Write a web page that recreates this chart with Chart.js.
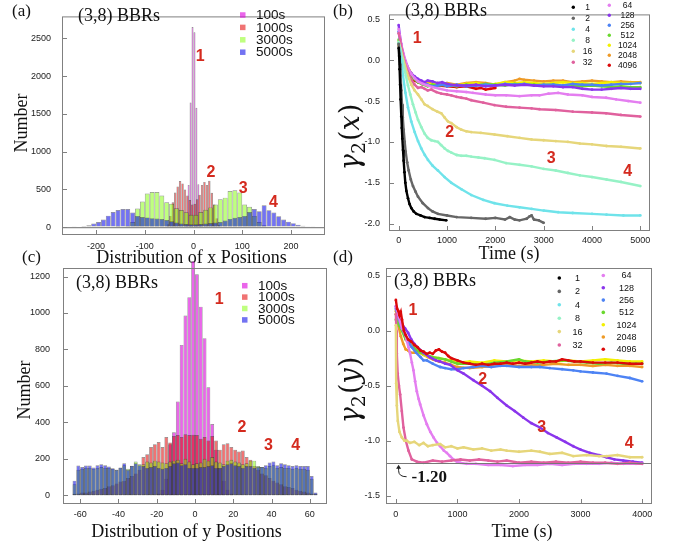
<!DOCTYPE html>
<html><head><meta charset="utf-8">
<script src="https://cdn.jsdelivr.net/npm/chart.js@4.4.1/dist/chart.umd.min.js"></script>
<style>
html,body{margin:0;padding:0;background:#fff;}
#wrap{position:relative;width:680px;height:548px;overflow:hidden;background:#fff;}
canvas{position:absolute;left:0;top:0;}
</style></head><body>
<div id="wrap">
<canvas id="ca" width="680" height="548"></canvas>
<canvas id="cb" width="680" height="548"></canvas>
<canvas id="cc" width="680" height="548"></canvas>
<canvas id="cd" width="680" height="548"></canvas>
</div>
<script>
// ---------------- DATA ----------------
const HIST_LABELS = ['100s', '1000s', '3000s', '5000s'];
// (a) x-position histograms
const xBins10 = [-245,-235,-225,-215,-205,-195,-185,-175,-165,-155,-145,-135,-125,-115,-105,-95,-85,-75,-65,-55,-45,-35,-25,-15,-5,5,15,25,35,45,55,65,75,85,95,105,115,125,135,145,155,165,175,185,195,205,215,225,235,245];
const x5000 = [5,8,15,25,50,70,103,153,202,227,240,240,195,150,136,130,120,115,108,95,78,62,50,42,38,38,42,50,55,62,70,88,110,125,135,150,200,240,212,290,225,195,145,103,74,54,33,20,12,5];
const x3000 = [0,0,0,0,0,0,0,0,0,3,8,20,70,247,339,445,466,466,420,330,309,250,228,198,165,165,200,230,262,300,371,391,480,490,460,300,270,150,70,25,8,0,0,0,0,0,0,0,0,0];
const xBins5 = [-52.5,-47.5,-42.5,-37.5,-32.5,-27.5,-22.5,-17.5,-12.5,-7.5,-2.5,2.5,7.5,12.5,17.5,22.5,27.5,32.5,37.5,42.5,47.5,52.5];
const x1000 = [40,150,330,460,540,610,580,500,420,360,300,310,370,430,560,600,560,615,455,300,120,30];
const xBins4 = [-14,-10,-6,-2,2,6,10,14];
const x100 = [40,560,1650,2650,2580,1580,570,40];
const xTicksA = [-200,-100,0,100,200];
const yTicksA = [0,500,1000,1500,2000,2500];

// (c) y-position histograms
const yBins2 = [-63,-61,-59,-57,-55,-53,-51,-49,-47,-45,-43,-41,-39,-37,-35,-33,-31,-29,-27,-25,-23,-21,-19,-17,-15,-13,-11,-9,-7,-5,-3,-1,1,3,5,7,9,11,13,15,17,19,21,23,25,27,29,31,33,35,37,39,41,43,45,47,49,51,53,55,57,59,61,63];
const y5000 = [80,163,155,163,163,152,165,170,165,158,148,140,152,176,140,162,175,165,160,150,155,160,150,145,150,160,175,180,165,170,150,150,150,155,155,160,165,150,150,160,170,175,165,160,150,160,160,150,155,155,165,180,185,165,175,170,165,160,165,160,160,160,105,15];
const y3000 = [60,140,145,150,150,145,150,155,150,150,145,140,150,165,145,160,185,170,170,185,180,190,185,180,175,185,190,195,175,200,185,170,175,180,200,190,210,185,180,170,190,195,185,180,170,175,190,190,160,155,150,160,165,150,155,150,150,145,150,145,145,140,90,10];
const y1000 = [8,10,15,15,20,25,30,35,40,50,55,65,75,80,95,105,120,140,210,225,265,280,292,265,320,290,325,330,320,335,330,332,330,310,320,300,325,300,250,280,285,265,250,240,245,210,195,160,140,120,110,95,80,70,60,50,45,40,30,25,20,15,10,5];
const y100 = [0,0,0,0,0,0,0,0,0,0,0,0,0,0,0,0,0,0,0,0,0,0,10,30,90,280,346,514,825,986,1087,1285,1213,1035,862,593,391,250,150,80,30,10,0,0,0,0,0,0,0,0,0,0,0,0,0,0,0,0,0,0,0,0,0,0];
const xTicksC = [-60,-40,-20,0,20,40,60];
const yTicksC = [0,200,400,600,800,1000,1200];

// (b) gamma2(x) vs time, one [t, value] list per cell size
const SERIES_N = ['1','2','4','8','16','32','64','128','256','512','1024','2048','4096'];
const gx1 = [[0,0.15],[10,0.05],[20,-0.11],[30,-0.3],[40,-0.48],[55,-0.69],[65,-0.83],[76,-0.96],[90,-1.1],[103,-1.23],[120,-1.37],[138,-1.5],[160,-1.6],[193,-1.69],[225,-1.76],[262,-1.81],[310,-1.85],[365,-1.88],[450,-1.9],[537,-1.92],[640,-1.93],[744,-1.94],[850,-1.95],[985,-1.96]];
const gx2 = [[0,0.2],[15,0.08],[30,-0.05],[41,-0.19],[55,-0.37],[69,-0.54],[85,-0.7],[103,-0.85],[125,-1.0],[145,-1.12],[175,-1.25],[207,-1.35],[250,-1.46],[296,-1.54],[350,-1.61],[400,-1.67],[500,-1.75],[606,-1.81],[700,-1.85],[813,-1.88],[1000,-1.9],[1200,-1.92],[1500,-1.93],[1800,-1.94],[2000,-1.93],[2200,-1.95],[2300,-1.92],[2400,-1.95],[2500,-1.96],[2650,-1.94],[2710,-1.91],[2750,-1.9],[2800,-1.95],[2900,-1.96],[3000,-1.99]];
const gx4 = [[0,0.2],[30,0.1],[60,-0.05],[90,-0.19],[140,-0.4],[193,-0.58],[260,-0.75],[331,-0.88],[400,-0.99],[468,-1.08],[540,-1.16],[606,-1.22],[700,-1.29],[812,-1.35],[950,-1.43],[1088,-1.5],[1300,-1.58],[1502,-1.65],[1750,-1.71],[1983,-1.75],[2250,-1.78],[2500,-1.8],[2750,-1.82],[3000,-1.84],[3300,-1.86],[3600,-1.87],[4000,-1.88],[4300,-1.89],[4650,-1.9],[5000,-1.9]];
const gx8 = [[0,0.22],[40,0.12],[80,0.0],[130,-0.14],[193,-0.31],[240,-0.42],[296,-0.54],[350,-0.64],[400,-0.73],[470,-0.82],[537,-0.9],[600,-0.95],[675,-0.98],[750,-0.99],[812,-1.0],[880,-1.04],[950,-1.08],[1020,-1.11],[1088,-1.13],[1200,-1.16],[1295,-1.17],[1400,-1.17],[1502,-1.18],[1650,-1.19],[1777,-1.2],[1983,-1.22],[2225,-1.26],[2500,-1.28],[2750,-1.3],[3000,-1.33],[3250,-1.35],[3500,-1.38],[3750,-1.41],[4000,-1.43],[4300,-1.46],[4600,-1.49],[5000,-1.54]];
const gx16 = [[0,0.22],[40,0.14],[90,0.02],[130,-0.06],[170,-0.15],[210,-0.22],[262,-0.3],[330,-0.37],[400,-0.42],[470,-0.48],[537,-0.54],[600,-0.56],[700,-0.6],[800,-0.63],[882,-0.65],[950,-0.7],[1020,-0.75],[1088,-0.77],[1200,-0.82],[1295,-0.85],[1400,-0.87],[1502,-0.88],[1700,-0.89],[1983,-0.91],[2250,-0.93],[2500,-0.95],[2750,-0.97],[3000,-0.98],[3250,-0.99],[3500,-1.0],[3750,-1.02],[4000,-1.03],[4300,-1.05],[4600,-1.06],[5000,-1.08]];
const gx32 = [[0,0.33],[30,0.25],[70,0.12],[110,0.0],[150,-0.08],[200,-0.16],[262,-0.24],[330,-0.3],[400,-0.34],[470,-0.33],[537,-0.35],[600,-0.37],[675,-0.36],[780,-0.39],[882,-0.41],[1000,-0.42],[1088,-0.43],[1200,-0.45],[1295,-0.46],[1400,-0.47],[1502,-0.49],[1750,-0.52],[1983,-0.55],[2225,-0.57],[2500,-0.58],[2750,-0.59],[2913,-0.6],[3250,-0.61],[3602,-0.63],[4000,-0.64],[4291,-0.65],[4600,-0.67],[5000,-0.69]];
const gx64 = [[0,0.38],[25,0.3],[60,0.18],[100,0.08],[150,-0.02],[200,-0.1],[262,-0.17],[330,-0.22],[400,-0.26],[500,-0.29],[600,-0.31],[700,-0.33],[847,-0.35],[1000,-0.37],[1200,-0.38],[1400,-0.39],[1536,-0.4],[1800,-0.42],[2000,-0.43],[2225,-0.43],[2500,-0.44],[2750,-0.43],[2913,-0.43],[3100,-0.41],[3300,-0.4],[3500,-0.42],[3800,-0.43],[4000,-0.45],[4291,-0.46],[4500,-0.48],[4750,-0.5],[5000,-0.52]];
const gx128 = [[0,0.43],[20,0.32],[50,0.2],[90,0.08],[130,0.0],[170,-0.06],[210,-0.12],[262,-0.16],[330,-0.2],[400,-0.23],[470,-0.25],[537,-0.27],[600,-0.25],[700,-0.26],[800,-0.28],[900,-0.27],[1000,-0.29],[1200,-0.31],[1400,-0.31],[1600,-0.3],[1800,-0.32],[2000,-0.31],[2200,-0.3],[2400,-0.31],[2600,-0.3],[2800,-0.31],[3000,-0.32],[3200,-0.32],[3400,-0.33],[3600,-0.33],[3800,-0.35],[4000,-0.36],[4200,-0.36],[4400,-0.35],[4600,-0.34],[4800,-0.35],[5000,-0.35]];
const gx256 = [[0,0.35],[40,0.2],[90,0.05],[150,-0.05],[210,-0.12],[262,-0.17],[330,-0.21],[400,-0.25],[500,-0.28],[600,-0.3],[700,-0.32],[800,-0.31],[900,-0.3],[1000,-0.32],[1200,-0.3],[1400,-0.32],[1600,-0.31],[1800,-0.3],[2000,-0.31],[2200,-0.29],[2400,-0.3],[2600,-0.29],[2800,-0.31],[3000,-0.3],[3200,-0.3],[3400,-0.31],[3600,-0.29],[3800,-0.3],[4000,-0.3],[4200,-0.31],[4400,-0.3],[4600,-0.29],[4800,-0.29],[5000,-0.28]];
const gx512 = [[0,0.25],[50,0.12],[100,0.02],[160,-0.08],[220,-0.15],[300,-0.22],[400,-0.27],[500,-0.3],[600,-0.32],[700,-0.3],[800,-0.31],[1000,-0.3],[1200,-0.32],[1400,-0.3],[1600,-0.31],[1800,-0.29],[2000,-0.3],[2200,-0.31],[2400,-0.29],[2600,-0.3],[2800,-0.3],[3000,-0.31],[3200,-0.3],[3400,-0.32],[3600,-0.31],[3800,-0.32],[4000,-0.31],[4200,-0.32],[4400,-0.33],[4600,-0.32],[4800,-0.33],[5000,-0.33]];
const gx1024 = [[0,0.2],[50,0.15],[100,0.05],[160,-0.05],[220,-0.12],[300,-0.2],[400,-0.25],[500,-0.28],[600,-0.29],[700,-0.3],[800,-0.28],[1000,-0.29],[1200,-0.31],[1400,-0.29],[1600,-0.28],[1800,-0.3],[2000,-0.29],[2200,-0.27],[2400,-0.28],[2600,-0.27],[2800,-0.28],[3000,-0.29],[3200,-0.28],[3400,-0.27],[3600,-0.28],[3800,-0.28],[4000,-0.29],[4200,-0.28],[4400,-0.27],[4600,-0.28],[4800,-0.28],[5000,-0.28]];
const gx2048 = [[0,0.18],[50,0.12],[100,0.03],[160,-0.06],[220,-0.14],[300,-0.2],[400,-0.25],[500,-0.28],[600,-0.27],[700,-0.29],[800,-0.3],[1000,-0.28],[1200,-0.3],[1400,-0.28],[1600,-0.27],[1800,-0.28],[2000,-0.3],[2200,-0.27],[2400,-0.25],[2500,-0.23],[2600,-0.24],[2800,-0.25],[3000,-0.26],[3200,-0.25],[3400,-0.25],[3600,-0.27],[3800,-0.26],[4000,-0.25],[4200,-0.26],[4400,-0.27],[4600,-0.26],[4800,-0.27],[5000,-0.27]];
const gx4096 = [[0,0.2],[40,0.12],[80,0.03],[130,-0.06],[180,-0.14],[230,-0.2],[262,-0.22],[330,-0.25],[400,-0.27],[500,-0.29],[600,-0.3],[800,-0.31],[1000,-0.32],[1200,-0.33],[1400,-0.32],[1600,-0.35],[1700,-0.34],[1800,-0.36],[1900,-0.35],[2000,-0.34]];
const xTicksB = [0,1000,2000,3000,4000,5000];
const yTicksB = [0.5,0,-0.5,-1,-1.5,-2];

// (d) gamma2(y) vs time
const gy1 = [], gy2 = [], gy4 = [], gy8 = [];
const gy16 = [[0,0.05],[5,-0.48],[16,-0.68],[32,-0.82],[59,-0.92],[97,-0.97],[140,-1.0],[178,-1.0],[230,-1.02],[300,-1.01],[380,-1.04],[449,-1.02],[520,-1.05],[600,-1.04],[719,-1.03],[800,-1.06],[900,-1.05],[1000,-1.07],[1100,-1.06],[1259,-1.08],[1400,-1.07],[1550,-1.09],[1700,-1.08],[1800,-1.09],[2000,-1.1],[2200,-1.09],[2340,-1.1],[2500,-1.12],[2700,-1.11],[2881,-1.14],[3100,-1.13],[3300,-1.14],[3421,-1.14],[3600,-1.13],[3800,-1.15],[4000,-1.15]];
const gy32 = [[0,0.15],[8,0.0],[16,-0.21],[30,-0.39],[50,-0.5],[70,-0.58],[97,-0.73],[124,-0.88],[162,-1.0],[205,-1.09],[259,-1.17],[340,-1.19],[450,-1.2],[600,-1.18],[750,-1.19],[900,-1.18],[1050,-1.17],[1200,-1.18],[1350,-1.17],[1500,-1.18],[1650,-1.19],[1800,-1.18],[2000,-1.2],[2200,-1.19],[2400,-1.2],[2600,-1.19],[2800,-1.2],[3000,-1.19],[3200,-1.2],[3400,-1.2],[3600,-1.21],[3800,-1.2],[4000,-1.21]];
const gy64 = [[0,0.22],[50,0.12],[100,0.02],[150,-0.03],[178,-0.09],[205,-0.15],[232,-0.21],[260,-0.29],[286,-0.36],[313,-0.46],[340,-0.55],[370,-0.62],[395,-0.67],[450,-0.77],[503,-0.85],[560,-0.92],[611,-0.97],[670,-1.02],[719,-1.05],[780,-1.09],[827,-1.11],[880,-1.14],[935,-1.17],[990,-1.19],[1043,-1.2],[1150,-1.21],[1300,-1.21],[1500,-1.22],[1700,-1.22],[1900,-1.23],[2100,-1.22],[2300,-1.22],[2500,-1.21],[2700,-1.22],[2900,-1.21],[3100,-1.21],[3300,-1.21],[3500,-1.2],[3700,-1.21],[3900,-1.21],[4000,-1.21]];
const gy128 = [[0,0.22],[50,0.12],[100,0.06],[150,0.02],[200,-0.02],[250,-0.08],[300,-0.12],[350,-0.15],[449,-0.2],[550,-0.24],[650,-0.27],[719,-0.28],[800,-0.3],[881,-0.31],[1000,-0.36],[1100,-0.39],[1259,-0.45],[1400,-0.5],[1530,-0.55],[1650,-0.61],[1800,-0.68],[1930,-0.73],[2070,-0.79],[2200,-0.84],[2340,-0.88],[2470,-0.93],[2610,-0.97],[2750,-1.01],[2881,-1.05],[3000,-1.08],[3151,-1.11],[3300,-1.13],[3421,-1.15],[3550,-1.17],[3692,-1.18],[3850,-1.19],[4000,-1.2]];
const gy256 = [[0,0.2],[50,0.1],[100,0.02],[150,-0.04],[200,-0.1],[260,-0.15],[330,-0.2],[400,-0.24],[449,-0.27],[503,-0.27],[600,-0.3],[719,-0.33],[800,-0.34],[900,-0.35],[1000,-0.35],[1100,-0.34],[1259,-0.33],[1400,-0.32],[1550,-0.33],[1700,-0.32],[1800,-0.32],[2000,-0.33],[2200,-0.33],[2340,-0.33],[2500,-0.34],[2700,-0.35],[2881,-0.36],[3000,-0.37],[3200,-0.38],[3421,-0.39],[3600,-0.41],[3800,-0.43],[4000,-0.46]];
const gy512 = [[0,0.1],[50,0.05],[100,0.0],[160,-0.08],[220,-0.12],[300,-0.16],[400,-0.2],[500,-0.22],[600,-0.24],[700,-0.25],[800,-0.26],[900,-0.28],[1000,-0.3],[1200,-0.3],[1400,-0.31],[1600,-0.29],[1800,-0.28],[2000,-0.26],[2100,-0.28],[2300,-0.29],[2500,-0.28],[2700,-0.27],[2900,-0.28],[3100,-0.29],[3300,-0.3],[3500,-0.29],[3700,-0.3],[3900,-0.3],[4000,-0.3]];
const gy1024 = [[0,0.15],[50,0.1],[100,0.0],[160,-0.07],[220,-0.13],[300,-0.17],[400,-0.2],[500,-0.23],[600,-0.24],[700,-0.25],[800,-0.26],[900,-0.27],[1000,-0.29],[1200,-0.28],[1400,-0.29],[1600,-0.27],[1800,-0.28],[2000,-0.27],[2200,-0.28],[2400,-0.27],[2600,-0.28],[2800,-0.27],[3000,-0.28],[3200,-0.27],[3400,-0.26],[3600,-0.27],[3800,-0.28],[4000,-0.28]];
const gy2048 = [[0,0.18],[40,0.05],[80,-0.05],[120,-0.12],[160,-0.17],[200,-0.18],[240,-0.2],[300,-0.2],[380,-0.2],[450,-0.22],[520,-0.24],[600,-0.26],[700,-0.28],[800,-0.29],[900,-0.31],[1000,-0.33],[1200,-0.34],[1400,-0.33],[1600,-0.32],[1800,-0.31],[2000,-0.32],[2200,-0.31],[2400,-0.31],[2600,-0.3],[2800,-0.31],[3000,-0.31],[3200,-0.32],[3400,-0.31],[3600,-0.32],[3800,-0.32],[4000,-0.33]];
const gy4096 = [[0,0.28],[20,0.2],[40,0.18],[60,0.14],[80,0.17],[100,0.1],[130,0.0],[160,-0.04],[200,-0.08],[250,-0.1],[300,-0.13],[350,-0.15],[400,-0.18],[450,-0.19],[500,-0.21],[550,-0.2],[600,-0.21],[650,-0.18],[700,-0.17],[750,-0.19],[800,-0.2],[850,-0.23],[900,-0.25],[1000,-0.27],[1100,-0.29],[1200,-0.3],[1300,-0.31],[1400,-0.3],[1500,-0.31],[1600,-0.3],[1700,-0.3],[1800,-0.29],[1900,-0.3],[2000,-0.29],[2100,-0.3],[2200,-0.29],[2300,-0.28],[2400,-0.29],[2500,-0.28],[2600,-0.28],[2700,-0.26],[2800,-0.27],[2900,-0.28],[3000,-0.28],[3200,-0.29],[3400,-0.29],[3600,-0.29],[3800,-0.3],[4000,-0.3]];
const xTicksD = [0,1000,2000,3000,4000];
const yTicksD = [0.5,0,-0.5,-1,-1.5];
const LIMIT_Y = -1.2;

// ---------------- STYLE ----------------
const SANS = '"Liberation Sans", Arial, Helvetica, sans-serif';
const SERIF = '"Liberation Serif", "Times New Roman", serif';
const MATH = '"DejaVu Serif", "Liberation Serif", serif';
const HIST_COLORS = ['rgba(220,0,220,0.6)', 'rgba(228,0,0,0.55)', 'rgba(128,255,0,0.5)', 'rgba(0,0,232,0.55)'];
const SER_COLORS = ['#000000','#666666','#6fe3ea','#96f2c6','#e6d67a','#e0619e','#e47ef0','#8a35ec','#4d83f4','#6ad82e','#f3f000','#ee9a26','#dc0a0a'];
const RED_TXT = '#d42a1e';
const FRAME = '#808080';

Chart.defaults.font.family = SANS;

const pairs = (xs, ys) => xs.map((x, i) => ({x, y: ys[i]}));
const pts = list => list.map(p => ({x: p[0], y: p[1]}));

// ---------------- decoration plugin ----------------
function drawGamma(ctx, cx, cy, v, F) {
  ctx.save();
  ctx.translate(cx, cy);
  ctx.rotate(-Math.PI / 2);
  ctx.fillStyle = '#111';
  ctx.textBaseline = 'alphabetic';
  ctx.textAlign = 'left';
  const parts = [
    {s: 'γ', f: `italic ${F}px ${MATH}`, dy: 0, g: 0},
    {s: '2', f: `${Math.round(F * 0.7)}px ${MATH}`, dy: F * 0.22, g: 1},
    {s: '(', f: `${F}px ${MATH}`, dy: 0, g: 0},
    {s: v, f: `italic ${F}px ${MATH}`, dy: 0, g: 1},
    {s: ')', f: `${F}px ${MATH}`, dy: 0, g: 0}
  ];
  let w = 0;
  parts.forEach(p => { ctx.font = p.f; p.w = ctx.measureText(p.s).width; w += p.w + p.g; });
  let x = -w / 2;
  parts.forEach(p => { ctx.font = p.f; ctx.fillText(p.s, x, F * 0.33 + p.dy); x += p.w + p.g; });
  ctx.restore();
}

const deco = {
  id: 'deco',
  afterDatasetsDraw(chart, args, o) {
    if (o.hline === undefined) return;
    const ctx = chart.ctx, a = chart.chartArea, ys = chart.scales.y;
    const p = Math.round(ys.getPixelForValue(o.hline)) + 0.5;
    ctx.save();
    ctx.strokeStyle = '#777'; ctx.lineWidth = 1.2;
    ctx.beginPath(); ctx.moveTo(a.left, p); ctx.lineTo(a.right, p); ctx.stroke();
    ctx.restore();
  },
  afterDraw(chart, args, o) {
    const ctx = chart.ctx, a = chart.chartArea, xs = chart.scales.x, ys = chart.scales.y;
    ctx.save();
    ctx.strokeStyle = FRAME; ctx.lineWidth = 1;
    ctx.strokeRect(a.left + 0.5, a.top + 0.5, a.right - a.left - 1, a.bottom - a.top - 1);
    ctx.beginPath();
    xs.ticks.forEach(t => { const p = Math.round(xs.getPixelForValue(t.value)) + 0.5; ctx.moveTo(p, a.bottom); ctx.lineTo(p, a.bottom - 5); });
    ys.ticks.forEach(t => { const p = Math.round(ys.getPixelForValue(t.value)) + 0.5; ctx.moveTo(a.left, p); ctx.lineTo(a.left + 5, p); });
    ctx.stroke();
    (o.texts || []).forEach(t => {
      ctx.font = t.f; ctx.fillStyle = t.c || '#111';
      ctx.textAlign = t.a || 'left'; ctx.textBaseline = 'middle';
      if (t.rot) { ctx.save(); ctx.translate(t.x, t.y); ctx.rotate(-Math.PI / 2); ctx.fillText(t.t, 0, 0); ctx.restore(); }
      else ctx.fillText(t.t, t.x, t.y);
    });
    (o.nums || []).forEach(n => {
      ctx.font = `bold 16px ${SANS}`; ctx.fillStyle = RED_TXT;
      ctx.textAlign = 'center'; ctx.textBaseline = 'middle';
      ctx.fillText(n.t, xs.getPixelForValue(n.x), ys.getPixelForValue(n.y));
    });
    if (o.gamma) drawGamma(ctx, o.gamma.x, o.gamma.y, o.gamma.v, o.gamma.size);
    if (o.legSq) {
      const L = o.legSq;
      L.labels.forEach((lab, i) => {
        const y = L.y + i * L.dy;
        ctx.fillStyle = L.colors[i];
        ctx.fillRect(L.x, y - L.s / 2, L.s, L.s);
        ctx.font = L.f; ctx.fillStyle = '#111'; ctx.textAlign = 'left'; ctx.textBaseline = 'middle';
        ctx.fillText(lab, L.lx, y + 0.5);
      });
    }
    if (o.legDot) {
      const L = o.legDot;
      L.cols.forEach(col => {
        col.idx.forEach((k, i) => {
          const y = col.y0 + i * col.dy;
          ctx.fillStyle = L.colors[k];
          ctx.beginPath(); ctx.arc(col.dx, y, L.r, 0, Math.PI * 2); ctx.fill();
          ctx.font = L.f; ctx.fillStyle = '#111'; ctx.textAlign = 'center'; ctx.textBaseline = 'middle';
          ctx.fillText(L.labels[k], col.lx, y + 0.5);
        });
      });
    }
    if (o.limit) {
      const px = xs.getPixelForValue(o.limit.x), py = ys.getPixelForValue(o.limit.y);
      ctx.strokeStyle = '#222'; ctx.lineWidth = 1; ctx.fillStyle = '#222';
      ctx.beginPath();
      ctx.moveTo(px + 8, py + 14);
      ctx.quadraticCurveTo(px, py + 14, px, py + 8);
      ctx.lineTo(px, py + 4);
      ctx.stroke();
      ctx.beginPath(); ctx.moveTo(px, py + 2); ctx.lineTo(px - 2.5, py + 6); ctx.lineTo(px + 2.5, py + 6); ctx.closePath(); ctx.fill();
      ctx.font = `bold 17px ${SERIF}`; ctx.fillStyle = '#111'; ctx.textAlign = 'left'; ctx.textBaseline = 'middle';
      ctx.fillText(o.limit.t, px + 13, py + 15);
    }
    ctx.restore();
  }
};

// ---------------- helpers for axes ----------------
function linAxis(min, max, ticks, opts) {
  return {
    type: 'linear', min, max, offset: false,
    grid: {display: opts.zeroLine ? true : false, drawTicks: false, drawOnChartArea: true,
           color: c => (opts.zeroLine && c.tick && c.tick.value === 0) ? '#8a8a8a' : 'rgba(0,0,0,0)', lineWidth: 1.2},
    border: {display: false},
    ticks: {font: {size: 9, family: SANS}, color: '#222', padding: opts.pad, maxRotation: 0,
            callback: opts.fmt || (v => String(v))},
    afterBuildTicks: s => { s.ticks = ticks.map(v => ({value: v})); },
    afterFit: s => { if (opts.w !== undefined) s.width = opts.w; if (opts.h !== undefined) s.height = opts.h; }
  };
}
const fmt1 = v => v.toFixed(1);
const common = {responsive: false, animation: false, events: [], plugins: {legend: {display: false}, tooltip: {enabled: false}}};
const W = 680, H = 548;

// bar thickness = one bin width, measured through the x scale
const binPx = (binW) => (c) => {
  const s = c.chart.scales.x;
  return Math.abs(s.getPixelForValue(binW) - s.getPixelForValue(0));
};
const histBar = {grouped: false, barPercentage: 1, categoryPercentage: 1, borderWidth: 0.7,
                 borderColor: 'rgba(40,40,40,0.55)', borderSkipped: false, inflateAmount: 0};

// ---------------- (a) ----------------
new Chart(document.getElementById('ca'), {
  type: 'bar',
  data: {datasets: [
    {label: HIST_LABELS[3], data: pairs(xBins10, x5000), backgroundColor: HIST_COLORS[3], order: 1, barThickness: binPx(10)},
    {label: HIST_LABELS[2], data: pairs(xBins10, x3000), backgroundColor: HIST_COLORS[2], order: 2, barThickness: binPx(10)},
    {label: HIST_LABELS[1], data: pairs(xBins5, x1000), backgroundColor: HIST_COLORS[1], order: 3, barThickness: binPx(5)},
    {label: HIST_LABELS[0], data: pairs(xBins4, x100), backgroundColor: HIST_COLORS[0], order: 4, barThickness: binPx(4)}
  ]},
  options: {
    ...common,
    layout: {padding: {left: 62 - 40, top: 1, right: W - 325, bottom: H - 235 - 22}},
    datasets: {bar: histBar},
    scales: {
      x: linAxis(-270, 270, xTicksA, {pad: 6, h: 22}),
      y: linAxis(-103, 2790, yTicksA, {pad: 11, w: 40, zeroLine: true})
    },
    plugins: {...common.plugins, deco: {
      texts: [
        {t: '(a)', x: 12, y: 12, f: `17px ${SERIF}`},
        {t: '(3,8) BBRs', x: 78, y: 16, f: `18px ${SERIF}`},
        {t: 'Number', x: 22, y: 123, f: `18px ${SERIF}`, a: 'center', rot: true},
        {t: 'Distribution of x Positions', x: 191.5, y: 258, f: `18px ${SERIF}`, a: 'center'}
      ],
      nums: [{t: '1', x: 14, y: 2262}, {t: '2', x: 36, y: 725}, {t: '3', x: 102, y: 515}, {t: '4', x: 164, y: 330}],
      legSq: {x: 240, y: 15, dy: 12.4, s: 5.5, lx: 256, f: `13.5px ${SANS}`, labels: HIST_LABELS, colors: HIST_COLORS}
    }}
  },
  plugins: [deco]
});

// ---------------- (c) ----------------
new Chart(document.getElementById('cc'), {
  type: 'bar',
  data: {datasets: [
    {label: HIST_LABELS[3], data: pairs(yBins2, y5000), backgroundColor: HIST_COLORS[3], order: 1, barThickness: binPx(2)},
    {label: HIST_LABELS[2], data: pairs(yBins2, y3000), backgroundColor: HIST_COLORS[2], order: 2, barThickness: binPx(2)},
    {label: HIST_LABELS[1], data: pairs(yBins2, y1000), backgroundColor: HIST_COLORS[1], order: 3, barThickness: binPx(2)},
    {label: HIST_LABELS[0], data: pairs(yBins2, y100), backgroundColor: HIST_COLORS[0], order: 4, barThickness: binPx(2), clip: {left: 0, top: 10, right: 0, bottom: 0}}
  ]},
  options: {
    ...common,
    layout: {padding: {left: 63 - 40, top: 268, right: W - 327, bottom: H - 504 - 22}},
    datasets: {bar: histBar},
    scales: {
      x: linAxis(-69, 69, xTicksC, {pad: 5, h: 22}),
      y: linAxis(-48, 1247, yTicksC, {pad: 13, w: 40})
    },
    plugins: {...common.plugins, deco: {
      texts: [
        {t: '(c)', x: 22, y: 258, f: `17px ${SERIF}`},
        {t: '(3,8) BBRs', x: 76, y: 283, f: `18px ${SERIF}`},
        {t: 'Number', x: 25, y: 390, f: `18px ${SERIF}`, a: 'center', rot: true},
        {t: 'Distribution of y Positions', x: 186.5, y: 532, f: `18px ${SERIF}`, a: 'center'}
      ],
      nums: [{t: '1', x: 12.7, y: 1072}, {t: '2', x: 24.6, y: 373}, {t: '3', x: 38.4, y: 272}, {t: '4', x: 52.6, y: 272}],
      legSq: {x: 242, y: 285.7, dy: 11.4, s: 5.5, lx: 258, f: `13.5px ${SANS}`, labels: HIST_LABELS, colors: HIST_COLORS}
    }}
  },
  plugins: [deco]
});

// ---------------- time-series panels ----------------
function seriesSets(lists, topIndex) {
  return lists.map((lst, i) => ({
    label: SERIES_N[i], data: pts(lst), showLine: true,
    borderColor: SER_COLORS[i], backgroundColor: SER_COLORS[i],
    borderWidth: 2.4, pointRadius: 1.4, pointBorderWidth: 0, pointHoverRadius: 0, tension: 0,
    order: i === topIndex ? -1 : 0
  }));
}
const legCols = (x1, l1, y1, d1, x2, l2, y2, d2) => [
  {dx: x1, lx: l1, y0: y1, dy: d1, idx: [0,1,2,3,4,5]},
  {dx: x2, lx: l2, y0: y2, dy: d2, idx: [6,7,8,9,10,11,12]}
];

// (b)
new Chart(document.getElementById('cb'), {
  type: 'scatter',
  data: {datasets: seriesSets([gx1,gx2,gx4,gx8,gx16,gx32,gx64,gx128,gx256,gx512,gx1024,gx2048,gx4096], -5)},
  options: {
    ...common,
    layout: {padding: {left: 389 - 40, top: 1, right: W - 650, bottom: H - 231 - 22}},
    scales: {
      x: linAxis(-200, 5200, xTicksB, {pad: 4, h: 22}),
      y: linAxis(-2.09, 0.56, yTicksB, {pad: 9, w: 40, fmt: fmt1})
    },
    plugins: {...common.plugins, deco: {
      texts: [
        {t: '(b)', x: 333, y: 12, f: `17px ${SERIF}`},
        {t: '(3,8) BBRs', x: 405, y: 11, f: `18px ${SERIF}`},
        {t: 'Time (s)', x: 509, y: 254, f: `18px ${SERIF}`, a: 'center'}
      ],
      gamma: {x: 350, y: 137, v: 'x', size: 27},
      nums: [{t: '1', x: 386, y: 0.27}, {t: '2', x: 1054, y: -0.88}, {t: '3', x: 3155, y: -1.2}, {t: '4', x: 4738, y: -1.36}],
      legDot: {r: 1.7, f: `8.5px ${SANS}`, labels: SERIES_N, colors: SER_COLORS,
               cols: legCols(573.3, 587.5, 7.3, 11, 609.3, 627.5, 5.3, 10)}
    }}
  },
  plugins: [deco]
});

// (d)
new Chart(document.getElementById('cd'), {
  type: 'scatter',
  data: {datasets: seriesSets([gy1,gy2,gy4,gy8,gy16,gy32,gy64,gy128,gy256,gy512,gy1024,gy2048,gy4096], 12)},
  options: {
    ...common,
    layout: {padding: {left: 386 - 40, top: 268, right: W - 652, bottom: H - 504 - 22}},
    scales: {
      x: linAxis(-160, 4160, xTicksD, {pad: 5, h: 22}),
      y: linAxis(-1.575, 0.57, yTicksD, {pad: 6, w: 40, fmt: fmt1})
    },
    plugins: {...common.plugins, deco: {
      hline: LIMIT_Y,
      texts: [
        {t: '(d)', x: 333, y: 258, f: `17px ${SERIF}`},
        {t: '(3,8) BBRs', x: 394, y: 281, f: `18px ${SERIF}`},
        {t: 'Time (s)', x: 522, y: 532, f: `18px ${SERIF}`, a: 'center'}
      ],
      gamma: {x: 350, y: 390, v: 'y', size: 27},
      nums: [{t: '1', x: 276, y: 0.18}, {t: '2', x: 1411, y: -0.44}, {t: '3', x: 2368, y: -0.88}, {t: '4', x: 3789, y: -1.03}],
      limit: {x: 45, y: LIMIT_Y, t: '-1.20'},
      legDot: {r: 1.8, f: `9px ${SANS}`, labels: SERIES_N, colors: SER_COLORS,
               cols: legCols(559.3, 577.5, 278, 13.4, 603.3, 626.5, 275.5, 12.3)}
    }}
  },
  plugins: [deco]
});
</script>
</body></html>
